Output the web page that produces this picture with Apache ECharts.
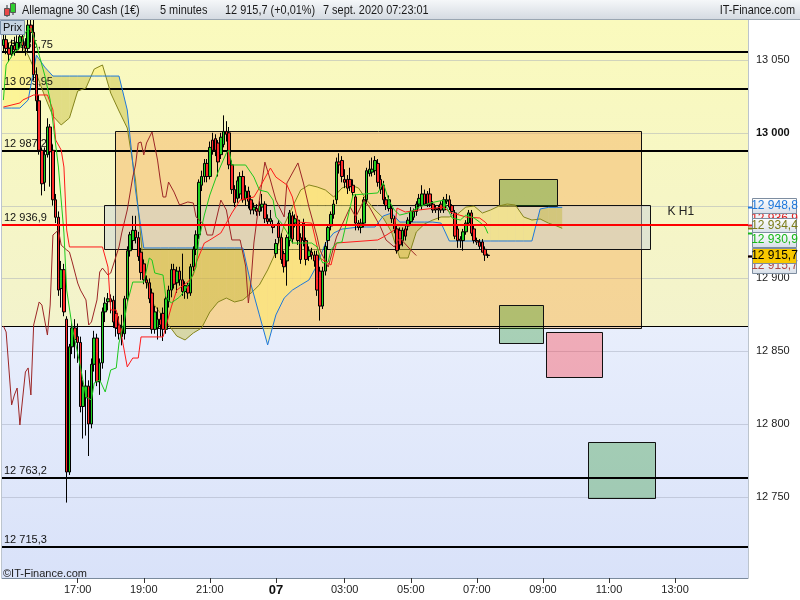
<!DOCTYPE html>
<html>
<head>
<meta charset="utf-8">
<script src="https://cdn.jsdelivr.net/npm/echarts/dist/echarts.min.js"></script>
<style>
html,body{margin:0;padding:0;background:#fff;}
#main{width:800px;height:600px;}
</style>
</head>
<body>
<div id="main"></div>
<script>
// bougies 5 minutes [ouverture, cloture, bas, haut]
var candles = [
 [13060,13064,13056,13068],[13064,13058,13054,13067],[13058,13054,13049,13062],[13054,13060,13052,13064],
 [13060,13057,13053,13066],[13057,13062,13055,13067],[13062,13066,13058,13070],[13066,13060,13055,13072],
 [13060,13058,13053,13065],[13058,13074,13055,13082],[13074,13069,13062,13085],[13069,13040,13036,13080],
 [13040,13022,13015,13045],[13022,12988,12985,13026],[12988,12965,12957,12990],[12966,12985,12960,12990],
 [12985,13004,12983,13010],[13004,12987,12963,13006],[12988,12954,12950,12992],[12954,12942,12938,12958],
 [12942,12892,12888,12946],[12893,12906,12880,12912],[12906,12877,12874,12910],[12872,12767,12746,12874],
 [12767,12853,12765,12855],[12853,12866,12848,12870],[12866,12858,12845,12872],[12860,12856,12842,12869],
 [12856,12812,12808,12860],[12812,12826,12790,12830],[12818,12826,12792,12837],[12826,12800,12778,12830],
 [12800,12841,12797,12845],[12841,12859,12836,12864],[12859,12829,12826,12862],[12829,12842,12820,12845],
 [12842,12877,12838,12880],[12877,12883,12870,12887],[12884,12886,12878,12890],[12886,12884,12876,12889],
 [12885,12870,12866,12888],[12876,12866,12860,12880],[12868,12862,12858,12874],[12866,12860,12854,12875],
 [12862,12886,12858,12888],[12886,12919,12884,12922],[12919,12930,12915,12932],[12926,12933,12920,12943],
 [12933,12928,12924,12943],[12928,12915,12912,12932],[12918,12904,12899,12921],[12910,12899,12896,12913],
 [12899,12897,12893,12902],[12897,12886,12883,12900],[12890,12865,12862,12893],[12865,12877,12862,12881],
 [12866,12872,12858,12880],[12872,12868,12860,12876],[12876,12865,12857,12880],[12865,12886,12862,12888],
 [12884,12892,12880,12895],[12892,12906,12887,12910],[12906,12896,12893,12910],[12897,12905,12890,12908],
 [12905,12899,12895,12908],[12899,12891,12888,12917],[12891,12895,12886,12898],[12895,12890,12886,12897],
 [12890,12908,12888,12910],[12908,12920,12905,12922],[12920,12930,12916,12933],[12930,12966,12927,12968],
 [12964,12970,12960,12974],[12970,12979,12966,12982],[12979,12970,12966,12982],[12970,12990,12968,12994],
 [12995,12988,12985,13000],[12996,12988,12984,12999],[12993,12980,12970,12995],[12985,12997,12982,13000],
 [12992,13001,12990,13012],[13001,12999,12994,13008],[13000,12978,12975,13004],[12978,12961,12958,12981],
 [12961,12952,12949,12964],[12955,12967,12952,12970],[12958,12970,12955,12973],[12970,12954,12952,12974],
 [12955,12960,12950,12964],[12960,12953,12948,12963],[12954,12947,12944,12957],[12947,12949,12944,12952],
 [12948,12946,12943,12951],[12946,12950,12943,12953],[12949,12951,12946,12958],[12951,12941,12938,12953],
 [12941,12939,12936,12944],[12939,12941,12936,12947],[12937,12935,12931,12940],
 [12917,12924,12914,12927],[12938,12928,12924,12940],[12928,12913,12910,12931],[12917,12908,12904,12919],
 [12912,12928,12895,12930],[12926,12945,12922,12947],[12943,12927,12924,12946],[12938,12941,12935,12944],
 [12940,12926,12923,12943],[12928,12913,12910,12931],[12938,12926,12922,12941],[12926,12913,12909,12928],
 [12915,12919,12912,12922],[12918,12916,12913,12921],[12916,12912,12908,12919],[12916,12892,12888,12919],
 [12905,12881,12871,12908],[12881,12905,12879,12908],[12905,12922,12902,12925],[12926,12935,12920,12937],
 [12936,12944,12933,12946],[12944,12951,12941,12954],[12954,12980,12951,12983],[12980,12978,12972,12986],
 [12981,12970,12966,12984],[12968,12966,12962,12975],[12968,12962,12958,12971],[12968,12963,12960,12976],
 [12964,12959,12956,12968],[12956,12938,12933,12958],[12938,12935,12933,12940],[12935,12938,12931,12941],
 [12938,12954,12935,12956],[12954,12974,12951,12976],[12972,12975,12970,12981],[12973,12975,12970,12983],
 [12974,12981,12971,12984],[12979,12966,12963,12982],[12968,12961,12958,12971],[12964,12954,12951,12967],
 [12954,12950,12947,12956],[12948,12954,12946,12957],[12948,12941,12938,12950],[12941,12934,12931,12943],
 [12934,12919,12917,12936],[12933,12923,12920,12935],[12926,12933,12922,12935],[12934,12929,12926,12936],
 [12936,12940,12933,12942],[12939,12946,12936,12949],[12942,12946,12940,12948],[12946,12951,12943,12953],
 [12951,12955,12948,12958],[12950,12958,12947,12964],[12958,12951,12950,12961],[12958,12951,12949,12960],
 [12958,12951,12949,12962],[12951,12947,12945,12953],[12948,12947,12945,12950],[12948,12947,12940,12950],
 [12951,12947,12945,12953],[12947,12954,12945,12956],[12953,12954,12951,12958],[12954,12949,12947,12957],
 [12950,12946,12944,12951],[12945,12929,12927,12947],[12934,12926,12921,12936],[12927,12926,12921,12929],
 [12926,12932,12919,12934],[12932,12938,12930,12940],[12938,12945,12936,12947],[12945,12931,12929,12947],
 [12934,12926,12924,12936],[12926,12925,12923,12928],[12925,12922,12920,12927],[12925,12918,12918,12927],
 [12920,12916,12912,12922],[12916,12915.7,12914,12917]
];

// Ichimoku : [index bougie, valeur]
var tenkan = [[0,13022.5],[1,13046.6],[4,13055.5],[6,13058.2],[8,13069.2],[10,13072.0],[12,13060.3],[15,13039.7],
 [17,13022.5],[20,12976.5],[22,12931.2],[23,12892.0],[25,12866.6],[28,12839.2],[30,12818.6],[32,12816.5],
 [33,12828.2],[35,12830.2],[37,12822.0],[39,12837.1],[41,12838.5],[42,12855.6],[44,12871.4],[45,12883.1],
 [47,12897.5],[51,12897.5],[53,12914.0],[54,12912.6],[55,12903.7],[58,12902.3],[59,12887.2],[61,12883.1],
 [64,12887.2],[66,12892.0],[68,12898.9],[70,12907.8],[71,12926.4],[73,12943.5],[75,12957.3],[78,12973.1],
 [81,12986.1],[82,12988.2],[83,12977.9],[88,12977.9],[91,12969.6],[93,12960.7],[96,12959.3],[98,12953.8],
 [99,12942.2],[101,12938.0],[103,12931.9],[105,12924.3],[112,12924.3],[114,12921.6],[115,12914.7],[116,12910.6],
 [118,12911.3],[119,12919.5],[121,12924.3],[123,12925.0],[124,12933.2],[126,12949.0],[127,12957.3],[136,12958.7],
 [138,12965.5],[140,12953.8],[142,12947.0],[144,12943.5],[147,12944.9],[151,12949.0],[155,12951.8],[160,12953.8],
 [161,12949.0],[163,12941.5],[166,12940.1],[168,12943.5],[171,12941.5],[173,12938.7],[175,12935.3],[176,12930.9]];

var kijun = [[0,13017.7],[6,13020.5],[7,13022.5],[11,13026.0],[16,13026.0],[18,13015.7],[19,12995.1],[21,12988.2],
 [22,12976.5],[23,12933.2],[24,12921.6],[36,12921.6],[38,12907.8],[39,12878.3],[41,12878.3],[43,12859.8],
 [45,12839.2],[47,12845.3],[49,12845.3],[50,12859.8],[58,12859.8],[59,12866.6],[61,12880.4],[63,12892.0],
 [67,12897.5],[69,12902.3],[70,12910.6],[73,12924.3],[75,12926.4],[79,12931.2],[83,12944.9],[86,12953.8],
 [91,12955.9],[93,12962.1],[97,12975.8],[99,12969.6],[103,12964.2],[105,12955.9],[107,12938.7],[112,12938.0],
 [115,12914.0],[119,12909.2],[121,12924.3],[136,12926.4],[138,12928.4],[142,12933.2],[143,12948.3],[146,12945.6],
 [151,12947.0],[160,12949.0],[162,12945.6],[168,12942.2],[173,12941.5],[175,12938.7],[176,12936.7]];

var chikou = [[0,12867.3],[1,12863.2],[3,12813.1],[4,12819.9],[5,12824.7],[6,12799.3],[8,12835.7],[9,12838.5],
 [10,12819.9],[11,12868.0],[13,12883.8],[14,12881.7],[15,12871.4],[16,12861.1],[17,12881.7],[18,12929.8],
 [20,12933.2],[21,12922.9],[23,12919.5],[24,12918.1],[25,12911.3],[27,12896.8],[28,12892.0],[30,12885.2],
 [31,12868.0],[32,12870.1],[34,12885.2],[35,12904.4],[36,12907.1],[38,12902.3],[39,12903.7],[42,12921.6],
 [43,12931.2],[45,12947.0],[47,12969.6],[48,12977.9],[49,12993.0],[50,12993.7],[51,12984.8],[52,12993.0],
 [54,13000.6],[56,12981.3],[57,12967.6],[58,12955.9],[59,12955.9],[60,12966.2],[62,12959.3],[64,12950.4],
 [67,12952.5],[69,12951.8],[70,12942.2],[73,12936.7],[74,12929.8],[76,12929.8],[79,12953.8],[81,12947.0],
 [83,12926.4],[86,12926.4],[88,12908.5],[89,12883.1],[90,12898.9],[91,12924.3],[93,12953.8],[95,12979.9],
 [97,12967.6],[99,12953.8],[102,12942.2],[103,12965.5],[105,12972.4],[107,12979.3],[109,12965.5],[111,12949.0],
 [114,12928.4],[115,12919.5],[118,12907.8],[121,12928.4],[126,12949.0],[128,12942.2],[131,12953.8],[133,12949.0],
 [137,12935.3],[139,12926.4],[142,12921.6],[144,12927.8],[148,12919.5],[150,12915.7]];

var cloudIdx = [0,3,6,9,12,15,18,21,24,27,30,33,36,39,42,45,48,51,54,57,60,63,66,69,72,75,78,81,84,87,
 90,93,96,99,102,105,108,111,114,117,120,123,126,129,132,135,138,141,144,147,150,153,156,159,
 162,165,168,171,174,177,180,183,186,189,192,195,198,201,203];
var senkouA = [13060.3,13062.4,13061.0,13053.4,13040.4,13025.3,13011.5,13005.4,13010.2,13028.7,13030.8,13043.8,13046.6,13027.3,13015.0,
 13003.3,12967.6,12905.8,12883.8,12876.2,12868.0,12860.4,12857.7,12862.5,12865.9,12876.9,12883.8,12886.5,12883.8,12885.2,
 12890.0,12895.5,12905.8,12918.1,12936.7,12949.0,12960.7,12964.2,12962.8,12960.7,12955.9,12962.1,12964.2,12962.1,12953.8,12947.0,
 12941.5,12931.9,12914.0,12914.0,12931.9,12937.4,12940.1,12942.2,
 12942.2,12944.2,12949.0,12949.7,12944.9,12947.0,12949.7,12951.1,12950.4,12942.2,12940.1,12940.8,12938.0,12936.0,12934.4];
var senkouB = [13017.0,13017.0,13017.0,13022.5,13053.4,13045.2,13039.0,13039.0,13039.0,13039.0,13039.0,13039.0,13039.0,13039.0,13039.0,
 13015.7,12960.7,12920.9,12920.9,12920.9,12920.9,12920.9,12920.9,12920.9,12920.9,12920.9,12920.9,12920.9,12920.9,12920.9,
 12895.5,12874.9,12854.3,12874.9,12886.5,12892.0,12895.5,12898.9,12909.2,12924.3,12931.2,12933.9,12934.6,12935.3,12935.3,12935.3,
 12942.9,12944.9,12938.7,12938.7,12938.7,12938.7,12938.7,12938.0,
 12925.7,12925.7,12925.7,12925.7,12925.7,12925.7,12925.7,12925.7,12925.7,12925.7,12925.7,12947.7,12948.8,12948.8,12948.8];

// niveaux horizontaux
var levels = [13055.75, 13029.95, 12987.25, 12867.3, 12763.2, 12715.3];
var levelHasLabel = [true, true, true, false, true, true];
var redLevel = 12936.9;
var gridValues = [12750, 12800, 12850, 12900, 12950, 13000, 13050];
var zoneSplit = 12867.3;

// zones [debut, fin (index bougie), haut, bas]
var zones = [
 [40.55, 231.6, 13001.2, 12865.9],
 [36.55, 234.9, 12950.4, 12920.2],
 [180.0, 201.1, 12968.3, 12949.7],
 [180.0, 195.9, 12881.7, 12855.6],
 [197.1, 217.4, 12863.2, 12832.3],
 [212.4, 236.7, 12787.6, 12749.2]
];
var zoneFill = ['rgba(245,170,80,0.42)', 'rgba(199,208,219,0.45)', 'rgba(20,140,20,0.3)',
  'rgba(20,140,20,0.3)', 'rgba(255,50,57,0.35)', 'rgba(20,140,20,0.3)'];

// etiquettes de prix a droite
var tagValues = [12936.9, 12948.8, 12934.4, 12930.9, 12915.7, 12915.7];
var tagLook = [
  {c:'#e02020', dy:-6}, {c:'#1e78dc', dy:-1}, {c:'#7c7c18', dy:-2},
  {c:'#18b818', dy:7}, {c:'#b04848', dy:10}, {c:'#000', dy:0, bg:'#f8c800'}
];

var xLabels = ['17:00','19:00','21:00','03:00','05:00','07:00','09:00','11:00','13:00'];
var dayIndex = 99, dayText = '07';

var yMin = 12694.2, yMax = 13077.5;
var N = 271;

function pad(n){ return (n < 10 ? '0' : '') + n; }
var cats = [];
function session(h, m, count){
  for (var k = 0; k < count; k++){
    var t = h * 60 + m + 5 * k;
    cats.push(pad(Math.floor(t / 60) % 24) + ':' + pad(t % 60));
  }
}
session(14, 45, 99);
session(0, 55, N - 99);

function fr(v){
  var s = String(v).split('.');
  var ent = s[0].replace(/\B(?=(\d{3})+(?!\d))/g, ' ');
  return s.length > 1 ? ent + ',' + s[1] : ent;
}

var FONT = '"Liberation Sans", Arial, sans-serif';
var cloudUp = 'rgba(255,240,110,0.5)';
var cloudDown = 'rgba(190,180,40,0.4)';

function showTick(i, v){ return i === dayIndex || xLabels.indexOf(v) >= 0; }

function headText(x, txt, align){
  return {type: 'text', z: 11, x: x, y: 10, scaleX: 0.84,
    style: {text: txt, fill: '#1a1a1a', font: '13px ' + FONT, textAlign: align || 'left', textVerticalAlign: 'middle'}};
}

var chart = echarts.init(document.getElementById('main'));

var option = {
  animation: false,
  grid: {left: 2, right: 52, top: 20, bottom: 22, show: true, borderColor: '#7a8a9c', borderWidth: 1},
  xAxis: [{
    type: 'category', data: cats, boundaryGap: true,
    axisLine: {show: true, lineStyle: {color: '#7a8a9c'}},
    axisTick: {show: true, alignWithLabel: true, interval: showTick, length: 5, lineStyle: {color: '#333'}},
    axisLabel: {interval: showTick, color: '#222', fontSize: 11, margin: 6, fontFamily: FONT,
      formatter: function(v, i){ return i === dayIndex ? '{d|' + dayText + '}' : v; },
      rich: {d: {fontWeight: 'bold', fontSize: 13, color: '#111', fontFamily: FONT}}},
    splitLine: {show: false}
  }, {
    type: 'value', min: -0.5, max: N - 0.5, show: false
  }],
  yAxis: [{
    type: 'value', position: 'right', min: yMin, max: yMax, splitNumber: 8, scale: true,
    axisLine: {show: true, lineStyle: {color: '#7a8a9c'}},
    axisTick: {show: true, length: 4, lineStyle: {color: '#333'}},
    splitLine: {show: false},
    axisLabel: {color: '#222', fontSize: 11, margin: 8, fontFamily: FONT, showMinLabel: false, showMaxLabel: false,
      formatter: function(v){
        if (v < 12750 || v > 13050) return '';
        return v % 1000 === 0 ? '{b|' + fr(v) + '}' : fr(v);
      },
      rich: {b: {fontWeight: 'bold', fontSize: 11, color: '#111', fontFamily: FONT}}}
  }],
  series: [
    { // fond jaune / bleu
      type: 'custom', xAxisIndex: 1, yAxisIndex: 0, z: 1, clip: true,
      data: [[0, yMax], [0, zoneSplit]],
      renderItem: function(params, api){
        var top = params.dataIndex === 0 ? yMax : zoneSplit;
        var bot = params.dataIndex === 0 ? zoneSplit : yMin;
        var p0 = api.coord([-0.5, top]), p1 = api.coord([N - 0.5, bot]);
        var cols = params.dataIndex === 0 ? ['#fafabd', '#f3f3cc'] : ['#e8eefc', '#d9e2f9'];
        return {type: 'rect', shape: {x: p0[0], y: p0[1], width: p1[0] - p0[0], height: p1[1] - p0[1]},
          style: {fill: new echarts.graphic.LinearGradient(0, 0, 0, 1, [{offset: 0, color: cols[0]}, {offset: 1, color: cols[1]}])}};
      }
    },
    { // lignes de grille
      type: 'custom', xAxisIndex: 1, yAxisIndex: 0, z: 1, clip: true,
      data: gridValues.map(function(v){ return [0, v]; }),
      renderItem: function(params, api){
        var v = api.value(1);
        var p0 = api.coord([-0.5, v]), p1 = api.coord([N - 0.5, v]);
        return {type: 'line', shape: {x1: p0[0], y1: Math.round(p0[1]) + 0.5, x2: p1[0], y2: Math.round(p0[1]) + 0.5},
          style: {stroke: 'rgba(160,166,185,0.45)', lineWidth: 1}};
      }
    },
    { // zones
      type: 'custom', xAxisIndex: 1, yAxisIndex: 0, z: 2, clip: true,
      data: zones.map(function(z){ return [z[0], z[2]]; }),
      renderItem: function(params, api){
        var z = zones[params.dataIndex];
        var p0 = api.coord([z[0], z[2]]), p1 = api.coord([z[1], z[3]]);
        var x0 = Math.round(p0[0]) + 0.5, y0 = Math.round(p0[1]) + 0.5;
        var x1 = Math.round(p1[0]) + 0.5, y1 = Math.round(p1[1]) + 0.5;
        var kids = [{type: 'rect', shape: {x: x0, y: y0, width: x1 - x0, height: y1 - y0},
          style: {fill: zoneFill[params.dataIndex], stroke: '#111', lineWidth: 1}}];
        if (params.dataIndex === 1) {
          kids.push({type: 'text', x: x1 + 17, y: y0 + 6,
            style: {text: 'K H1', fill: '#222', font: '12px ' + FONT, textVerticalAlign: 'middle'}});
        }
        return {type: 'group', children: kids};
      }
    },
    { // nuage ichimoku
      type: 'custom', xAxisIndex: 1, yAxisIndex: 0, z: 3, clip: true,
      data: cloudIdx.slice(0, -1).map(function(x, j){ return [x, senkouA[j]]; }),
      renderItem: function(params, api){
        var j = params.dataIndex;
        var x0 = cloudIdx[j], x1 = cloudIdx[j + 1];
        var a0 = senkouA[j], a1 = senkouA[j + 1], b0 = senkouB[j], b1 = senkouB[j + 1];
        var d0 = a0 - b0, d1 = a1 - b1;
        var polys = [];
        if (d0 * d1 >= 0) {
          polys.push({pts: [[x0, a0], [x1, a1], [x1, b1], [x0, b0]], up: d0 + d1 >= 0});
        } else {
          var t = d0 / (d0 - d1);
          var xc = x0 + t * (x1 - x0), yc = a0 + t * (a1 - a0);
          polys.push({pts: [[x0, a0], [xc, yc], [x0, b0]], up: d0 > 0});
          polys.push({pts: [[xc, yc], [x1, a1], [x1, b1]], up: d1 > 0});
        }
        return {type: 'group', children: polys.map(function(p){
          return {type: 'polygon', shape: {points: p.pts.map(function(q){ return api.coord(q); })},
            style: {fill: p.up ? cloudUp : cloudDown}};
        })};
      }
    },
    {
      name: 'Senkou A', type: 'line', xAxisIndex: 1, yAxisIndex: 0, z: 4, showSymbol: false,
      data: cloudIdx.map(function(x, j){ return [x, senkouA[j]]; }),
      lineStyle: {color: '#85851c', width: 1}
    },
    {
      name: 'Senkou B', type: 'line', xAxisIndex: 1, yAxisIndex: 0, z: 4, showSymbol: false,
      data: cloudIdx.map(function(x, j){ return [x, senkouB[j]]; }),
      lineStyle: {color: '#1e78dc', width: 1}
    },
    { // niveaux noirs
      type: 'custom', xAxisIndex: 1, yAxisIndex: 0, z: 4, clip: true,
      data: levels.map(function(v){ return [0, v]; }),
      renderItem: function(params, api){
        var v = api.value(1);
        var p0 = api.coord([-0.5, v]), p1 = api.coord([N - 0.5, v]);
        var w = levelHasLabel[params.dataIndex] ? 2 : 1;
        var y = Math.round(p0[1]) + (w === 1 ? 0.5 : 0);
        var kids = [{type: 'line', shape: {x1: p0[0], y1: y, x2: p1[0], y2: y}, style: {stroke: '#000', lineWidth: w}}];
        if (levelHasLabel[params.dataIndex]) {
          kids.push({type: 'text', x: p0[0] + 2, y: y - 2,
            style: {text: fr(levels[params.dataIndex]), fill: '#111', font: '11px ' + FONT, textVerticalAlign: 'bottom'}});
        }
        return {type: 'group', children: kids};
      }
    },
    {
      name: 'DAX', type: 'candlestick', xAxisIndex: 0, yAxisIndex: 0, z: 5, barWidth: 3,
      data: candles,
      itemStyle: {color: '#22d022', color0: '#ff2a2a', borderColor: '#000', borderColor0: '#000', borderWidth: 1}
    },
    {
      name: 'Chikou', type: 'line', xAxisIndex: 1, yAxisIndex: 0, z: 6, showSymbol: false,
      data: chikou, lineStyle: {color: '#9c2626', width: 1}
    },
    {
      name: 'Kijun', type: 'line', xAxisIndex: 1, yAxisIndex: 0, z: 6, showSymbol: false,
      data: kijun, lineStyle: {color: '#ff1a1a', width: 1}
    },
    {
      name: 'Tenkan', type: 'line', xAxisIndex: 1, yAxisIndex: 0, z: 6, showSymbol: false,
      data: tenkan, lineStyle: {color: '#1ec81e', width: 1}
    },
    { // ligne rouge
      type: 'custom', xAxisIndex: 1, yAxisIndex: 0, z: 7, clip: true,
      data: [[0, redLevel]],
      renderItem: function(params, api){
        var p0 = api.coord([-0.5, redLevel]), p1 = api.coord([N - 0.5, redLevel]);
        var y = Math.round(p0[1]);
        return {type: 'group', children: [
          {type: 'line', shape: {x1: p0[0], y1: y, x2: p1[0], y2: y}, style: {stroke: '#ff0000', lineWidth: 2}},
          {type: 'text', x: p0[0] + 2, y: y - 2, style: {text: fr(redLevel), fill: '#111', font: '11px ' + FONT, textVerticalAlign: 'bottom'}}
        ]};
      }
    },
    { // etiquettes de prix
      type: 'custom', xAxisIndex: 1, yAxisIndex: 0, z: 9, clip: false,
      data: tagValues.map(function(v){ return [N - 0.5, v]; }),
      renderItem: function(params, api){
        var k = params.dataIndex, look = tagLook[k];
        var p = api.coord([N - 0.5, tagValues[k]]);
        var x = Math.round(p[0]), yp = Math.round(p[1]);
        var yc = yp + look.dy;
        var fill = look.bg ? look.bg : new echarts.graphic.LinearGradient(0, 0, 0, 1,
          [{offset: 0, color: '#ffffff'}, {offset: 1, color: '#d6dee8'}]);
        return {type: 'group', children: [
          {type: 'line', shape: {x1: x, y1: yp + 0.5, x2: x + 4, y2: yp + 0.5}, style: {stroke: look.c, lineWidth: 2}},
          {type: 'rect', shape: {x: x + 4.5, y: yc - 7.5, width: 44, height: 15},
            style: {fill: fill, stroke: '#7d8da0', lineWidth: 1}},
          {type: 'text', x: x + 26.5, y: yc, style: {text: fr(tagValues[k]), fill: look.c,
            font: '12px ' + FONT, textAlign: 'center', textVerticalAlign: 'middle'}}
        ]};
      }
    }
  ],
  graphic: [
    {type: 'rect', left: 0, top: 0, z: 10, shape: {width: 800, height: 19},
      style: {fill: new echarts.graphic.LinearGradient(0, 0, 0, 1, [{offset: 0, color: '#f5f7f9'}, {offset: 1, color: '#d5dbe2'}])}},
    {type: 'line', z: 10, shape: {x1: 0, y1: 19.5, x2: 800, y2: 19.5}, style: {stroke: '#9aa6b2', lineWidth: 1}},
    {type: 'line', z: 11, shape: {x1: 7, y1: 5, x2: 7, y2: 17}, style: {stroke: '#333', lineWidth: 1}},
    {type: 'rect', z: 11, shape: {x: 4.5, y: 8.5, width: 5, height: 7}, style: {fill: '#e84848', stroke: '#555'}},
    {type: 'line', z: 11, shape: {x1: 13, y1: 2, x2: 13, y2: 15}, style: {stroke: '#333', lineWidth: 1}},
    {type: 'rect', z: 11, shape: {x: 10.5, y: 3.5, width: 5, height: 9}, style: {fill: '#30d030', stroke: '#555'}},
    headText(22, 'Allemagne 30 Cash (1€)'),
    headText(160, '5 minutes'),
    headText(225, '12 915,7 (+0,01%)'),
    headText(323, '7 sept. 2020 07:23:01'),
    headText(795, 'IT-Finance.com', 'right'),
    {type: 'rect', z: 11, shape: {x: 0.5, y: 20.5, width: 24, height: 14}, style: {fill: '#c6d4e2', stroke: '#7a90a8'}},
    {type: 'text', z: 12, x: 3, y: 28, style: {text: 'Prix', fill: '#111', font: '11px ' + FONT, textVerticalAlign: 'middle'}},
    {type: 'text', z: 11, x: 3, y: 574, style: {text: '©IT-Finance.com', fill: '#222', font: '11px ' + FONT, textVerticalAlign: 'middle'}}
  ]
};

chart.setOption(option);
</script>
</body>
</html>
